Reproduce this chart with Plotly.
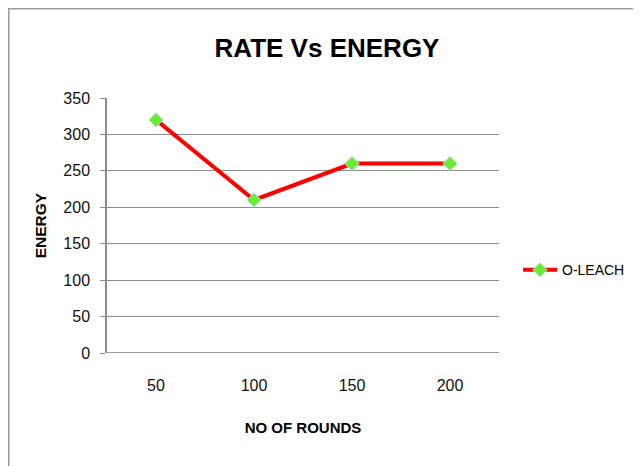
import plotly.graph_objects as go

rounds = ["50", "100", "150", "200"]
energy = [320, 210, 260, 260]
y_ticks = [0, 50, 100, 150, 200, 250, 300, 350]
series_name = "O-LEACH"

W, H = 633, 458
L, T, PW, PH = 99, 90, 392, 255

fig = go.Figure()
fig.add_trace(go.Scatter(
    x=rounds, y=energy, name=series_name, mode="lines+markers",
    line=dict(color="#ff0000", width=4),
    marker=dict(symbol="diamond", size=11, color="#66ee33",
                line=dict(color="#c8d8e8", width=1)),
))

font_main = "Liberation Sans, Arial"
fig.update_layout(
    width=W, height=H,
    margin=dict(l=L, r=W - L - PW, t=T, b=H - T - PH, autoexpand=False),
    paper_bgcolor="white", plot_bgcolor="white",
    title=dict(text="<b>RATE Vs ENERGY</b>", x=319 / W, xanchor="center",
               y=1 - 40 / H, yanchor="middle",
               font=dict(family=font_main, size=26, color="black")),
    showlegend=True,
    legend=dict(x=(510 - L) / PW, xanchor="left", y=0.325, yanchor="middle",
                itemwidth=34,
                font=dict(family=font_main, size=14, color="black"),
                bgcolor="rgba(0,0,0,0)"),
    xaxis=dict(
        type="category", range=[-0.5, 3.5],
        showgrid=False, showline=False, zeroline=False,
        ticks="outside", ticklen=18, tickcolor="rgba(0,0,0,0)",
        tickfont=dict(family=font_main, size=16, color="#111"),
        title=dict(text="<b>NO OF ROUNDS</b>", standoff=29,
                   font=dict(family=font_main, size=15, color="black")),
    ),
    yaxis=dict(
        range=[0, 350], tickvals=y_ticks,
        showgrid=True, gridcolor="#8c8c8c", gridwidth=1.3,
        showline=True, linecolor="#8c8c8c", linewidth=1.5,
        zeroline=False,
        ticks="outside", ticklen=5, tickcolor="#8c8c8c",
        ticklabelstandoff=7,
        tickfont=dict(family=font_main, size=16, color="#111"),
        title=dict(text="<b>ENERGY</b>", standoff=13,
                   font=dict(family=font_main, size=15.5, color="black")),
    ),
    shapes=[
        dict(type="rect", xref="paper", yref="paper",
             x0=(0.75 - L) / PW, x1=1.6, y0=-0.6, y1=(T + PH - 0.75) / PH,
             line=dict(color="#9a9a9a", width=1.5), fillcolor="rgba(0,0,0,0)",
             layer="below"),
        dict(type="line", xref="paper", yref="y", x0=0, x1=1, y0=0, y1=0,
             line=dict(color="#7a7a7a", width=1.5)),
    ],
)

fig.write_html("out.html")
